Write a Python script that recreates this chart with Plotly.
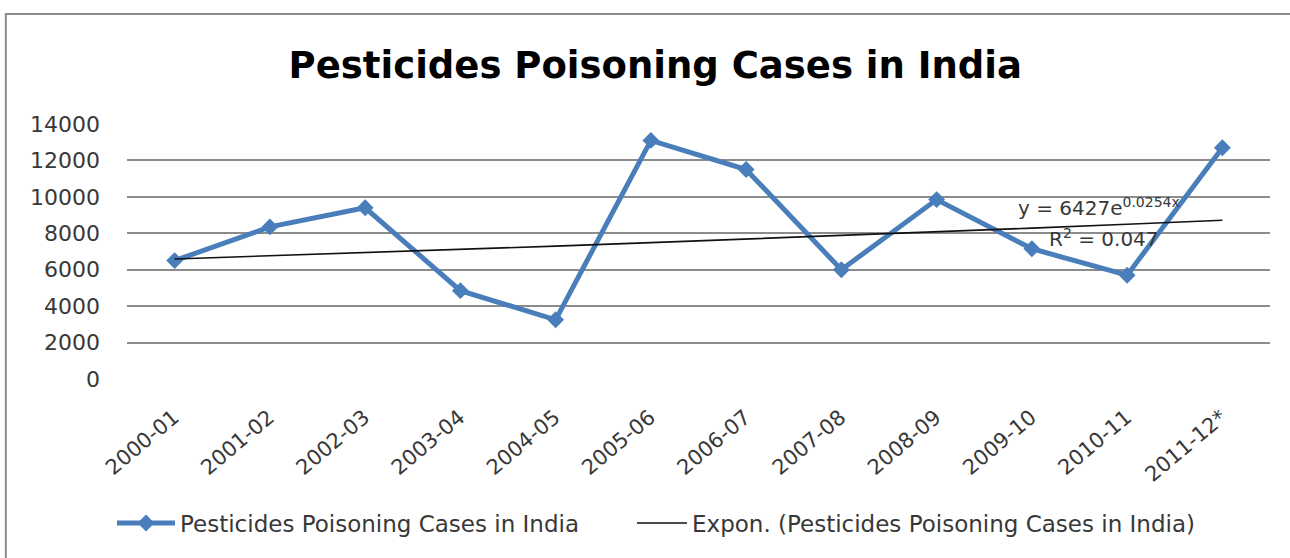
import numpy as np
import plotly.graph_objects as go

# Financial years and reported poisoning cases
years = ["2000-01", "2001-02", "2002-03", "2003-04", "2004-05", "2005-06",
         "2006-07", "2007-08", "2008-09", "2009-10", "2010-11", "2011-12*"]
cases = [6500, 8350, 9400, 4850, 3250, 13100, 11500, 6000, 9850, 7150, 5700, 12700]

# Exponential trend: y = a * e^(b*x), x = 1..n
trend_a = 6427
trend_b = 0.0254
trend_r2 = 0.047

y_ticks = [0, 2000, 4000, 6000, 8000, 10000, 12000, 14000]

idx = np.arange(1, len(years) + 1)
trend = trend_a * np.exp(trend_b * idx)

series_name = "Pesticides Poisoning Cases in India"
blue = "#4a7ebb"
font_family = "DejaVu Sans"
text_color = "#383838"

fig = go.Figure()
fig.add_trace(go.Scatter(
    x=years, y=cases, name=series_name, mode="lines+markers",
    line=dict(color=blue, width=5),
    marker=dict(symbol="diamond", size=13, color=blue),
    legend="legend",
))
fig.add_trace(go.Scatter(
    x=years, y=trend, name=f"Expon. ({series_name})", mode="lines",
    line=dict(color="#111111", width=1.6),
    legend="legend2",
))

fig.add_annotation(
    x=9.7, y=9450, xref="x", yref="y",
    text=f"y = {trend_a}e<sup>{trend_b}x</sup>",
    showarrow=False, font=dict(family=font_family, size=20, color=text_color),
)
fig.add_annotation(
    x=9.76, y=7750, xref="x", yref="y",
    text=f"R<sup>2</sup> = {trend_r2}",
    showarrow=False, font=dict(family=font_family, size=20, color=text_color),
)

# Chart area border
fig.add_shape(
    type="rect", xref="paper", yref="paper",
    x0=-0.106, x1=1.03, y0=-0.75, y1=1 + 110 / 255,
    line=dict(color="#8a8a8a", width=2), fillcolor="rgba(0,0,0,0)", layer="below",
)

legend_common = dict(
    orientation="h", y=-0.565, yanchor="middle", xanchor="left",
    font=dict(family=font_family, size=23, color=text_color),
    bgcolor="rgba(0,0,0,0)",
)

fig.update_layout(
    width=1290, height=558,
    margin=dict(l=127, r=20, t=124, b=179),
    paper_bgcolor="white", plot_bgcolor="white",
    font=dict(family=font_family, color=text_color),
    title=dict(
        text="<b>Pesticides Poisoning Cases in India</b>",
        x=0.508, xanchor="center", y=1 - 65 / 558, yanchor="middle",
        font=dict(family=font_family, size=37, color="#000000"),
    ),
    showlegend=True,
    legend=dict(x=(120 - 127 - 8) / 1143, itemwidth=58, **legend_common),
    legend2=dict(x=(640 - 127 - 8) / 1143, itemwidth=50, **legend_common),
    xaxis=dict(
        type="category", range=[-0.5, len(years) - 0.5],
        tickangle=-40, showgrid=False, showline=False, ticks="",
        tickfont=dict(family=font_family, size=21, color=text_color),
        ticklabelshift=-1, ticklabelstandoff=21,
    ),
    yaxis=dict(
        range=[0, 14000], tickvals=y_ticks, ticktext=[str(v) for v in y_ticks],
        showgrid=True, gridcolor="#8c8c8c", gridwidth=1.5,
        zeroline=False, showline=False, ticks="",
        tickfont=dict(family=font_family, size=22, color=text_color),
        ticklabelstandoff=26,
    ),
)

fig.write_html("out.html")
